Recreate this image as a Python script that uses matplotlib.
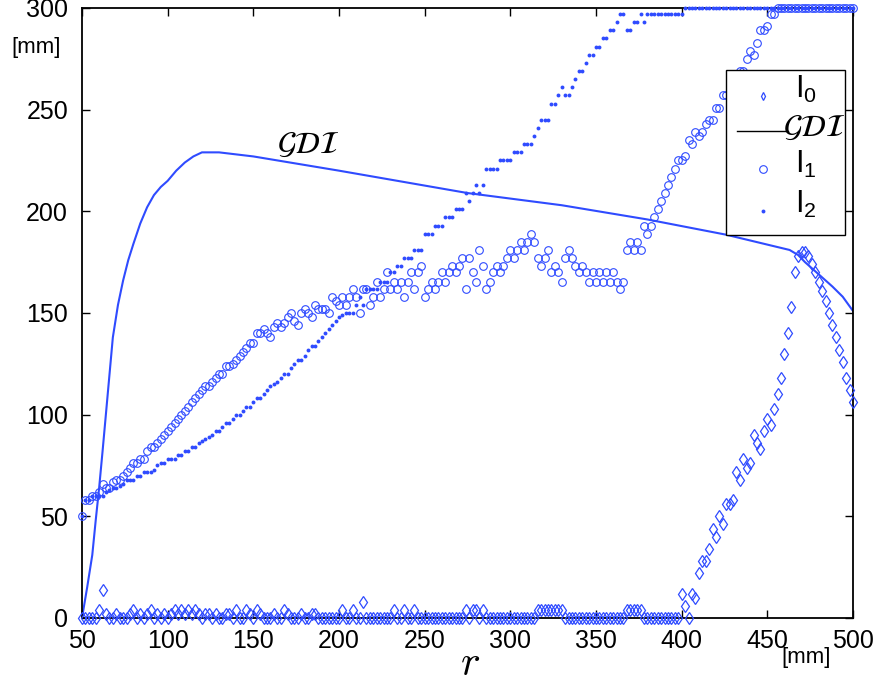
import numpy as np
import matplotlib
matplotlib.use('Agg')
import matplotlib.pyplot as plt
from matplotlib.patches import Rectangle

plt.rcParams['font.family'] = ['Liberation Sans', 'DejaVu Sans']

# sample positions r [mm]
r = np.arange(50, 501, 2)

# I0 (diamonds)
I0 = [0, 0, 0, 0, 0, 4, 14, 2, 0, 0,          # 50-68
      2, 0, 0, 0, 2, 4, 0, 2, 0, 2,           # 70-88
      4, 0, 2, 0, 2, 0, 2, 4, 2, 4,           # 90-108
      2, 4, 2, 4, 2, 0, 2, 2, 0, 2,           # 110-128
      0, 0, 2, 2, 0, 4, 0, 0, 4, 2,           # 130-148
      0, 4, 2, 0, 0, 0, 2, 0, 0, 4,           # 150-168
      2, 0, 0, 0, 2, 0, 0, 2, 2, 0,           # 170-188
      0, 0, 0, 0, 0, 0, 4, 0, 0, 4,           # 190-208
      0, 0, 8, 0, 0, 0, 0, 0, 0, 0,           # 210-228
      0, 4, 0, 0, 4, 0, 0, 4, 0, 0,           # 230-248
      0, 0, 0, 0, 0, 0, 0, 0, 0, 0,           # 250-268
      0, 0, 4, 0, 4, 4, 0, 4, 0, 0,           # 270-288
      0, 0, 0, 0, 0, 0, 0, 0, 0, 0,           # 290-308
      0, 0, 0, 4, 4, 4, 4, 4, 4, 4,           # 310-328
      4, 0, 0, 0, 0, 0, 0, 0, 0, 0,           # 330-348
      0, 0, 0, 0, 0, 0, 0, 0, 0, 4,           # 350-368
      4, 4, 4, 4, 0, 0, 0, 0, 0, 0,           # 370-388
      0, 0, 0, 0, 0, 12, 6, 0, 12, 10,        # 390-408
      22, 28, 28, 34, 44, 40, 50, 46, 56, 56, # 410-428
      58, 72, 68, 78, 74, 76, 90, 86, 83, 92, # 430-448
      98, 95, 103, 110, 118, 130, 140, 153, 170, 178,   # 450-468
      180, 180, 178, 174, 170, 165, 161, 156, 150, 144, # 470-488
      138, 132, 126, 118, 112, 106]                     # 490-500

# I1 (open circles)
I1 = [50, 58, 58, 60, 60, 62, 66, 64, 64, 67,            # 50-68
      68, 68, 70, 72, 74, 76, 76, 78, 78, 82,            # 70-88
      84, 84, 86, 88, 90, 92, 94, 96, 98, 100,           # 90-108
      102, 104, 106, 108, 110, 112, 114, 114, 116, 118,  # 110-128
      120, 120, 124, 124, 125, 127, 129, 131, 133, 135,  # 130-148
      135, 140, 140, 142, 140, 138, 143, 145, 143, 145,  # 150-168
      148, 150, 146, 144, 150, 152, 150, 148, 154, 152,  # 170-188
      152, 152, 150, 158, 156, 154, 158, 154, 158, 162,  # 190-208
      158, 150, 162, 162, 154, 158, 165, 158, 162, 170,  # 210-228
      162, 165, 162, 165, 158, 165, 170, 162, 170, 173,  # 230-248
      158, 162, 165, 162, 165, 170, 165, 170, 173, 170,  # 250-268
      173, 177, 162, 177, 170, 165, 181, 173, 162, 165,  # 270-288
      170, 173, 170, 173, 177, 181, 177, 181, 185, 181,  # 290-308
      185, 189, 185, 177, 173, 177, 181, 170, 173, 170,  # 310-328
      165, 177, 181, 177, 173, 170, 173, 170, 165, 170,  # 330-348
      165, 170, 165, 170, 165, 170, 165, 162, 165, 181,  # 350-368
      185, 181, 185, 181, 193, 189, 193, 197, 201, 205,  # 370-388
      209, 213, 217, 221, 225, 225, 227, 235, 233, 239,  # 390-408
      237, 239, 243, 245, 245, 251, 251, 257, 257, 261,  # 410-428
      265, 263, 269, 269, 275, 279, 277, 283, 289, 289,  # 430-448
      291, 297, 297, 300, 300, 300, 300, 300, 300, 300,  # 450-468
      300, 300, 300, 300, 300, 300, 300, 300, 300, 300,  # 470-488
      300, 300, 300, 300, 300, 300]                      # 490-500

# I2 (small dots)
I2 = [50, 58, 58, 60, 60, 60, 60, 62, 63, 64,            # 50-68
      64, 65, 66, 68, 68, 68, 70, 70, 72, 72,            # 70-88
      72, 73, 75, 76, 76, 78, 78, 78, 80, 80,            # 90-108
      82, 82, 84, 84, 86, 87, 88, 89, 90, 92,            # 110-128
      92, 94, 96, 96, 98, 100, 100, 102, 104, 104,       # 130-148
      106, 108, 108, 110, 112, 114, 115, 116, 118, 120,  # 150-168
      120, 123, 125, 127, 127, 129, 132, 134, 134, 136,  # 170-188
      138, 140, 142, 144, 146, 148, 149, 150, 150, 150,  # 190-208
      154, 158, 154, 162, 162, 162, 162, 165, 165, 165,  # 210-228
      170, 170, 173, 173, 177, 177, 177, 181, 181, 181,  # 230-248
      189, 189, 189, 193, 193, 193, 197, 197, 197, 201,  # 250-268
      201, 201, 209, 205, 209, 213, 209, 213, 221, 221,  # 270-288
      221, 221, 225, 225, 225, 225, 229, 229, 229, 233,  # 290-308
      233, 233, 237, 241, 245, 245, 245, 253, 253, 257,  # 310-328
      261, 257, 257, 261, 265, 269, 269, 273, 277, 277,  # 330-348
      281, 281, 285, 285, 289, 289, 293, 297, 297, 289,  # 350-368
      289, 293, 293, 297, 293, 297, 297, 297, 297, 297,  # 370-388
      297, 297, 297, 297, 297, 297, 300, 300, 300, 300,  # 390-408
      300, 300, 300, 300, 300, 300, 300, 300, 300, 300,  # 410-428
      300, 300, 300, 300, 300, 300, 300, 300, 300, 300,  # 430-448
      300, 300, 300, 300, 300, 300, 300, 300, 300, 300,  # 450-468
      300, 300, 300, 300, 300, 300, 300, 300, 300, 300,  # 470-488
      300, 300, 300, 300, 300, 300]                      # 490-500

# GDI curve
gdi_r = [50, 53, 56, 58, 60, 62, 65, 68, 71, 74, 77, 80, 84, 88, 92, 96, 100,
         105, 110, 115, 120, 125, 130, 140, 150, 200, 275, 330, 380, 426,
         463, 468, 472, 480, 488, 494, 500]
gdi_v = [0, 15, 31, 48, 64, 82, 110, 138, 154, 166, 176, 184, 194, 202, 208,
         212, 215, 220, 224, 227, 229, 229, 229, 228, 227, 220, 209, 203, 196,
         188.5, 181, 178.5, 175, 169, 163, 158, 151]

xticks = [50, 100, 150, 200, 250, 300, 350, 400, 450, 500]
yticks = [0, 50, 100, 150, 200, 250, 300]

BLUE = '#2f4bff'

fig = plt.figure(figsize=(8.77, 6.87), dpi=100)
ax = fig.add_axes([0.0935, 0.10044, 0.87913, 0.88792])

ax.plot(gdi_r, gdi_v, color=BLUE, lw=1.5, zorder=2)
ax.plot(r, I0, ls='none', marker='d', ms=6.5, mfc='none', mec=BLUE, mew=0.9,
        clip_on=False, zorder=3)
ax.plot(r, I1, ls='none', marker='o', ms=5.5, mfc='none', mec=BLUE, mew=0.8,
        clip_on=False, zorder=3)
ax.plot(r, I2, ls='none', marker='o', ms=2.8, mfc=BLUE, mec=BLUE, mew=0,
        clip_on=False, zorder=3)

ax.set_xlim(50, 500)
ax.set_ylim(0, 300)
ax.set_xticks(xticks)
ax.set_yticks(yticks)
ax.tick_params(direction='in', length=6, width=1, top=True, right=True,
               labelsize=18)
ax.tick_params(axis='x', pad=8)
ax.tick_params(axis='y', pad=10)
for s in ax.spines.values():
    s.set_linewidth(1.3)

ax.text(182, 232.5, r'$\mathcal{GDI}$', fontsize=22, ha='center', va='center',
        math_fontfamily='stix')

# legend box
ax.add_patch(Rectangle((0.835, 0.628), 0.155, 0.270, transform=ax.transAxes,
                       fill=True, fc='white', ec='black', lw=1.0, zorder=5,
                       clip_on=False))
ax.plot([0.883], [0.856], transform=ax.transAxes, ls='none', marker='d', ms=4,
        mfc='none', mec=BLUE, mew=0.9, zorder=6, clip_on=False)
ax.plot([0.850, 0.916], [0.798, 0.798], transform=ax.transAxes, color='black',
        lw=1.0, zorder=6, clip_on=False)
ax.plot([0.883], [0.7356], transform=ax.transAxes, ls='none', marker='o',
        ms=5.5, mfc='none', mec=BLUE, mew=0.8, zorder=6, clip_on=False)
ax.plot([0.883], [0.667], transform=ax.transAxes, ls='none', marker='o',
        ms=2.8, mfc=BLUE, mec=BLUE, mew=0, zorder=6, clip_on=False)
ax.text(0.925, 0.852, r'$\mathregular{I_0}$', transform=ax.transAxes,
        fontsize=22, va='baseline', ha='left', zorder=7)
ax.text(0.925, 0.7295, r'$\mathregular{I_1}$', transform=ax.transAxes,
        fontsize=22, va='baseline', ha='left', zorder=7)
ax.text(0.925, 0.6639, r'$\mathregular{I_2}$', transform=ax.transAxes,
        fontsize=22, va='baseline', ha='left', zorder=7)
ax.text(0.949, 0.803, r'$\mathcal{GDI}$', transform=ax.transAxes,
        fontsize=22, va='center', ha='center', zorder=7, math_fontfamily='stix')

fig.text(36 / 877, 1 - 47 / 687, '[mm]', fontsize=16, ha='center', va='center')
fig.text(806 / 877, 1 - 657 / 687, '[mm]', fontsize=16, ha='center', va='center')
fig.text(470 / 877, 1 - 675 / 687, r'$r$', fontsize=30, ha='center',
         va='baseline', math_fontfamily='cm')

fig.savefig('out.png', dpi=100)
